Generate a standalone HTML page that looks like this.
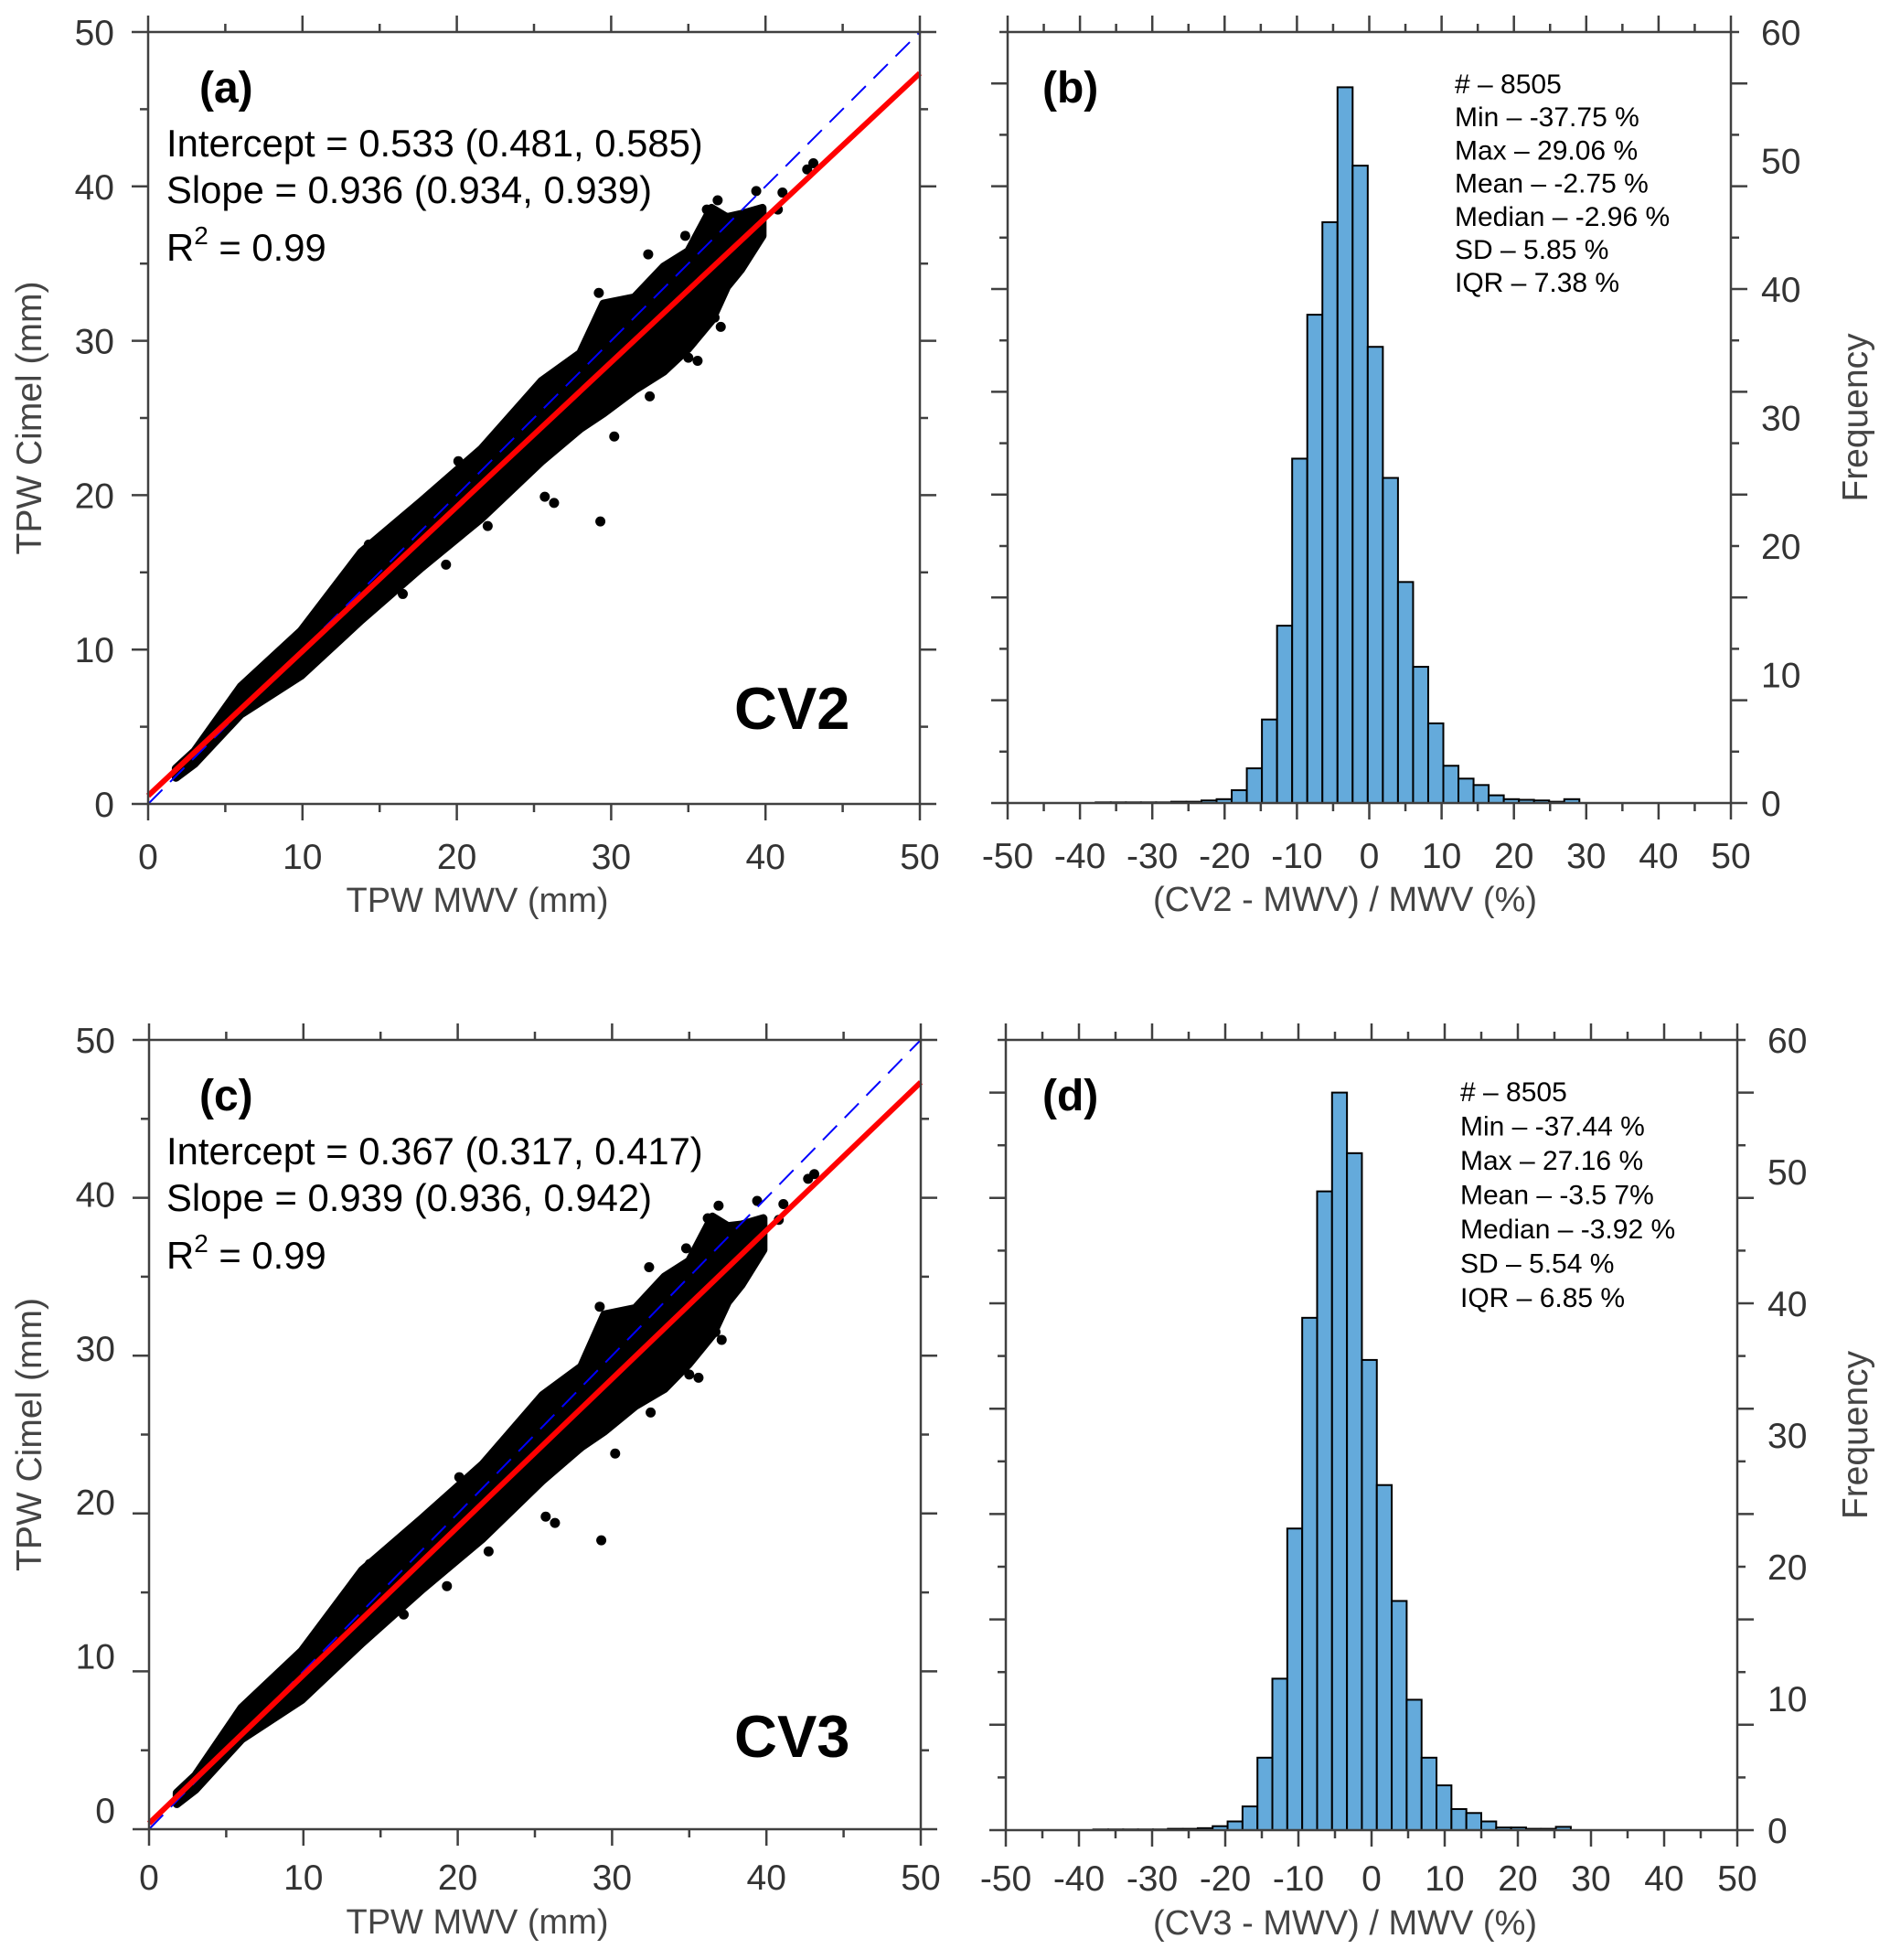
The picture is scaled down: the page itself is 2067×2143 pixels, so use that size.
<!DOCTYPE html>
<html><head><meta charset="utf-8">
<style>
html,body{margin:0;padding:0;background:#fff;}
svg{display:block;font-family:"Liberation Sans",Arial,sans-serif;}
</style></head>
<body>
<svg id="fig" width="2067" height="2143" viewBox="0 0 2067 2143" xmlns="http://www.w3.org/2000/svg">
<rect width="2067" height="2143" fill="#fff"/>
</svg>
<script>
// ---------- Panel (a) data: CV2 scatter band ----------
const bandXA  = [1.8, 3, 6, 9.9, 13.8, 17.7, 21.6, 25.5, 28.0, 29.5, 31.5, 33.4, 35.0, 36.5, 37.5, 38.4, 39.8];
const bandLoA = [1.7, 2.6, 5.8, 8.3, 11.9, 15.3, 18.5, 22.2, 24.3, 25.3, 26.8, 28.0, 29.5, 31.3, 33.5, 34.6, 36.8];
const bandHiA = [2.3, 3.4, 7.6, 11.2, 16.3, 19.6, 23.0, 27.4, 29.2, 32.4, 32.8, 34.8, 35.8, 38.6, 38.0, 38.2, 38.6];
const outXA = [25.7, 26.3, 29.3, 30.2, 32.5, 35.6, 35.0, 37.1, 39.4, 41.1, 43.1, 42.7, 40.8, 39.7, 19.3, 16.5, 22.0, 29.2, 32.4, 36.9, 20.1, 14.3, 36.2, 36.7, 34.8];
const outYA = [19.9, 19.5, 18.3, 23.8, 26.4, 28.7, 28.9, 30.9, 39.7, 39.6, 41.5, 41.1, 38.5, 37.0, 15.5, 13.6, 18.0, 33.1, 35.6, 39.1, 22.2, 16.8, 38.5, 31.5, 36.8];
const fitA = [0.533, 0.936];
// ---------- Panel (c) data: CV3 scatter band ----------
const bandXC  = [1.8, 3, 6, 9.9, 13.8, 17.7, 21.6, 25.5, 28.0, 29.5, 31.5, 33.4, 35.0, 36.5, 37.5, 38.4, 39.8];
const bandLoC = [1.6, 2.5, 5.7, 8.2, 11.8, 15.2, 18.4, 22.1, 24.2, 25.2, 26.8, 27.9, 29.5, 31.3, 33.4, 34.5, 36.7];
const bandHiC = [2.3, 3.4, 7.7, 11.3, 16.4, 19.7, 23.1, 27.5, 29.3, 32.6, 33.0, 35.0, 36.0, 38.8, 38.2, 38.3, 38.7];
const outXC = [25.7, 26.3, 29.3, 30.2, 32.5, 35.6, 35.0, 37.1, 39.4, 41.1, 43.1, 42.7, 40.8, 39.7, 19.3, 16.5, 22.0, 29.2, 32.4, 36.9, 20.1, 14.3, 36.2, 36.7, 34.8];
const outYC = [19.8, 19.4, 18.3, 23.8, 26.4, 28.6, 28.8, 31.0, 39.8, 39.6, 41.5, 41.2, 38.6, 37.0, 15.4, 13.6, 17.6, 33.1, 35.6, 39.5, 22.3, 16.8, 38.7, 31.5, 36.8];
const fitC = [0.367, 0.939];
// ---------- Panel (b) histogram ----------
const histStartB = -37.83;
const histWidthB = 2.09;
const histCountsB = [0.05,0.05,0.05,0.05,0.05,0.1,0.1, 0.2,0.3,1.0,2.7,6.5,13.8,26.8,38.0,45.2,55.7,49.6,35.5,25.3,17.2,10.6,6.2,2.9,1.9,1.4,0.6,0.3,0.25,0.2,0.1,0.3];
// ---------- Panel (d) histogram ----------
const histStartD = -38.04;
const histWidthD = 2.04;
const histCountsD = [0.05,0.05,0.05,0.05,0.05,0.1,0.1,0.15, 0.3,0.66,1.8,5.5,11.5,22.9,38.9,48.5,56.0,51.4,35.7,26.2,17.4,9.9,5.5,3.4,1.6,1.3,0.66,0.2,0.2,0.1,0.1,0.25];
// ---------- tick labels ----------
const scatterTicks = [0, 10, 20, 30, 40, 50];
const histXTicks = [-50, -40, -30, -20, -10, 0, 10, 20, 30, 40, 50];
const freqTicks = [0, 10, 20, 30, 40, 50, 60];
const statsB = ["# \u2013 8505", "Min \u2013 -37.75 %", "Max \u2013 29.06  %", "Mean \u2013 -2.75 %", "Median \u2013 -2.96 %", "SD \u2013 5.85 %", "IQR \u2013 7.38 %"];
const statsD = ["# \u2013 8505", "Min \u2013 -37.44 %", "Max \u2013 27.16 %", "Mean \u2013 -3.5 7%", "Median \u2013 -3.92 %", "SD \u2013 5.54 %", "IQR \u2013 6.85 %"];

const NS = "http://www.w3.org/2000/svg";
const svg = document.getElementById("fig");
const AX = "#404040";
function mk(tag, attrs, parent) {
  const e = document.createElementNS(NS, tag);
  for (const k in attrs) e.setAttribute(k, attrs[k]);
  (parent || svg).appendChild(e);
  return e;
}
function txt(s, attrs, parent) { const t = mk("text", attrs, parent); t.textContent = s; return t; }
function line(x1, y1, x2, y2, parent, w) {
  return mk("line", {x1, y1, x2, y2, stroke: AX, "stroke-width": w || 2.5}, parent);
}

function scatterPanel(o) {
  const g = mk("g", {});
  
  
  const sx = v => o.L + (v / 50) * (o.R - o.L);
  const sy = v => o.B - (v / 50) * (o.B - o.T);
  let pts = [];
  for (let i = 0; i < o.bx.length; i++) pts.push(sx(o.bx[i]) + "," + sy(o.hi[i]));
  for (let i = o.bx.length - 1; i >= 0; i--) pts.push(sx(o.bx[i]) + "," + sy(o.lo[i]));
  const band = mk("polygon", {points: pts.join(" "), fill: "#000", stroke: "#000", "stroke-width": 9, "stroke-linejoin": "round"}, g);
  
  
  for (let i = 0; i < o.ox.length; i++) {
    const c = mk("circle", {cx: sx(o.ox[i]), cy: sy(o.oy[i]), r: 5.5, fill: "#000"}, g);
    
    
  }
  const l1 = mk("line", {x1: sx(0), y1: sy(0), x2: sx(50), y2: sy(50), stroke: "#0000ff", "stroke-width": 2, "stroke-dasharray": "22 12"}, g);
  
  
  const lf = mk("line", {x1: sx(0), y1: sy(o.fit[0]), x2: sx(50), y2: sy(o.fit[0] + o.fit[1] * 50), stroke: "#ff0000", "stroke-width": 6}, g);
  
  
  mk("rect", {x: o.L, y: o.T, width: o.R - o.L, height: o.B - o.T, fill: "none", stroke: AX, "stroke-width": 2.5}, g);
  for (let v = 0; v <= 50; v += 5) {
    const len = v % 10 === 0 ? 18 : 9;
    const x = sx(v), y = sy(v);
    line(x, o.B, x, o.B + len, g); line(x, o.T, x, o.T - len, g);
    line(o.L, y, o.L - len, y, g); line(o.R, y, o.R + len, y, g);
  }
  const ly = v => o.T + (50 - v) / 50 * o.labelSpan;
  scatterTicks.forEach(v => {
    const t1 = txt(String(v), {x: sx(v), y: o.B + 71 - (o.B > 1500 ? 5 : 0), "text-anchor": "middle", "font-size": 39, fill: "#333"}, g);
    
    
    const t2 = txt(String(v), {x: o.L - 37, y: ly(v) + 14, "text-anchor": "end", "font-size": 39, fill: "#333"}, g);
    
    
  });
  const xt = txt("TPW MWV (mm)", {x: 522, y: o.B + 118 - (o.B > 1500 ? 4 : 0), "text-anchor": "middle", "font-size": 38, fill: "#444"}, g);
  
  
  const cy = (o.T + o.B) / 2;
  const yt = txt("TPW Cimel (mm)", {x: 0, y: 0, "text-anchor": "middle", "font-size": 39, fill: "#444", transform: `translate(45,${cy}) rotate(-90)`}, g);
  
  
  const pl = txt(o.label, {x: 218, y: o.T + 77, "font-size": 48, "font-weight": "bold", fill: "#000"}, g);
  
  
  o.lines.forEach((s, i) => {
    const t = txt(s, {x: 182, y: o.T + 136 + i * 51, "font-size": 41.8, fill: "#000"}, g);
    
    
  });
  const r2 = txt("R", {x: 182, y: o.T + 250, "font-size": 41.8, fill: "#000"}, g);
  
  
  const ts = mk("tspan", {"font-size": 28, dy: -18}, r2); ts.textContent = "2";
  const ts2 = mk("tspan", {dy: 18}, r2); ts2.textContent = " = 0.99";
  const cv = txt(o.cv, {x: 803, y: o.cvY, "font-size": 65, "font-weight": "bold", fill: "#000"}, g);
  
  
}

function histPanel(o) {
  const g = mk("g", {});
  
  
  const sx = v => o.L + ((v + 50) / 100) * (o.R - o.L);
  const sy = v => o.B - (v / 60) * (o.B - o.T);
  o.counts.forEach((c, i) => {
    const x0 = sx(o.start + i * o.width), x1 = sx(o.start + (i + 1) * o.width);
    const r = mk("rect", {x: x0, y: sy(c), width: x1 - x0, height: o.B - sy(c), fill: "#64aadb", stroke: "#000", "stroke-width": 2}, g);
    
    
  });
  mk("rect", {x: o.L, y: o.T, width: o.R - o.L, height: o.B - o.T, fill: "none", stroke: AX, "stroke-width": 2.5}, g);
  for (let v = -50; v <= 50; v += 5) {
    const len = v % 10 === 0 ? 18 : 9;
    line(sx(v), o.B, sx(v), o.B + len, g); line(sx(v), o.T, sx(v), o.T - len, g);
  }
  for (let v = 0; v <= 60; v += 4) {
    const len = v % 8 === 0 ? 18 : 9;
    line(o.L, sy(v), o.L - len, sy(v), g); line(o.R, sy(v), o.R + len, sy(v), g);
  }
  histXTicks.forEach(v => {
    const t = txt(String(v), {x: sx(v), y: o.B + 71 - (o.B > 1500 ? 5 : 0), "text-anchor": "middle", "font-size": 39, fill: "#333"}, g);
    
    
  });
  freqTicks.forEach(v => {
    const t = txt(String(v), {x: o.R + 33, y: sy(v) + 14, "font-size": 39, fill: "#333"}, g);
    
    
  });
  const xt = txt(o.xtitle, {x: 1471, y: o.B + 118 - (o.B > 1500 ? 4 : 0), "text-anchor": "middle", "font-size": 38, fill: "#444"}, g);
  
  
  const cy = (o.T + o.B) / 2;
  const yt = txt("Frequency", {x: 0, y: 0, "text-anchor": "middle", "font-size": 39, fill: "#444", transform: `translate(2042,${cy}) rotate(-90)`}, g);
  
  
  const pl = txt(o.label, {x: 1140, y: o.T + 77, "font-size": 48, "font-weight": "bold", fill: "#000"}, g);
  
  
  o.stats.forEach((s, i) => {
    const t = txt(s, {x: o.statsX, y: o.T + 67 + i * o.statsStep, "font-size": 30, fill: "#000"}, g);
    
    
  });
}

scatterPanel({name: "scatter-panel-a", L: 162, R: 1006, T: 35, B: 879, labelSpan: 844, bx: bandXA, lo: bandLoA, hi: bandHiA, ox: outXA, oy: outYA, fit: fitA,
  label: "(a)", cv: "CV2", cvY: 797,
  lines: ["Intercept = 0.533 (0.481, 0.585)", "Slope = 0.936 (0.934, 0.939)"]});
scatterPanel({name: "scatter-panel-c", L: 163, R: 1007, T: 1137, B: 2000, labelSpan: 842, bx: bandXC, lo: bandLoC, hi: bandHiC, ox: outXC, oy: outYC, fit: fitC,
  label: "(c)", cv: "CV3", cvY: 1921,
  lines: ["Intercept = 0.367 (0.317, 0.417)", "Slope = 0.939 (0.936, 0.942)"]});
histPanel({name: "histogram-panel-b", L: 1102, R: 1893, T: 35, B: 878, start: histStartB, width: histWidthB, counts: histCountsB,
  label: "(b)", xtitle: "(CV2 - MWV) / MWV (%)", stats: statsB, statsX: 1591, statsStep: 36.2});
histPanel({name: "histogram-panel-d", L: 1100, R: 1900, T: 1137, B: 2001, start: histStartD, width: histWidthD, counts: histCountsD,
  label: "(d)", xtitle: "(CV3 - MWV) / MWV (%)", stats: statsD, statsX: 1597, statsStep: 37.5});
</script>
</body></html>
